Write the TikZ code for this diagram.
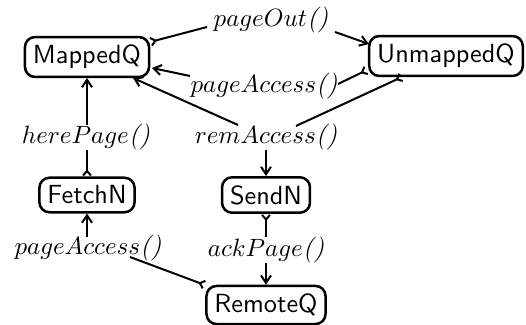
\documentclass[tikz,border=0pt]{standalone}
\usetikzlibrary{arrows.meta}

\tikzset{
  queue/.style={draw, line width=1pt, rounded corners=4pt,
    font=\sffamily\fontsize{10.5}{12}\selectfont,
    inner xsep=3.2pt, inner ysep=3.2pt},
  msg/.style={inner sep=0pt, font=\fontsize{10.4}{12}\selectfont},
  link/.style={line width=0.8pt},
  arr/.style={link, -{Straight Barb[length=3pt,width=4pt]}},
  tail/.style={link, {Straight Barb[reversed,length=1.8pt,width=3.2pt]}-},
}

\newcommand{\call}[1]{$#1$\textit{()}}

\begin{document}
\begin{tikzpicture}[x=0.4pt, y=-0.4pt]
  \useasboundingbox (0,0) rectangle (526,325);

  % page queues and nodes
  \node[queue] (MQ) at (87,57)   {MappedQ};
  \node[queue] (UQ) at (446,56)  {UnmappedQ};
  \node[queue] (FN) at (87,195)  {FetchN};
  \node[queue] (SN) at (266,195) {SendN};
  \node[queue] (RQ) at (266,305) {RemoteQ};

  % operation labels
  \node[msg] (pO)  at (271,20)  {\call{pageOut}};
  \node[msg] (pAt) at (264,86)  {\call{pageAccess}};
  \node[msg] (rA)  at (266,137) {\call{remAccess}};
  \node[msg] (hP)  at (86,137)  {\call{herePage}};
  \node[msg] (pAb) at (88,248)  {\call{pageAccess}};
  \node[msg] (aP)  at (266,250) {\call{ackPage}};

  % pageOut(): MappedQ -> UnmappedQ
  \draw[tail] ([shift={(63,-15)}]MQ.center) -- ([shift={(-64,7)}]pO.center);
  \draw[arr]  ([shift={(64,12)}]pO.center) -- ([shift={(-77,-12)}]UQ.center);

  % pageAccess(): UnmappedQ -> MappedQ
  \draw[tail] ([shift={(-79,14)}]UQ.center) -- ([shift={(74,-2)}]pAt.center);
  \draw[arr]  ([shift={(-74,-10)}]pAt.center) -- ([shift={(65,11)}]MQ.center);

  % remAccess(): UnmappedQ -> MappedQ and SendN
  \draw[tail] ([shift={(-44,21)}]UQ.center) -- ([shift={(30,-11)}]rA.center);
  \draw[arr]  ([shift={(-28,-12)}]rA.center) -- ([shift={(46,21)}]MQ.center);
  \draw[arr]  ([shift={(0,13)}]rA.center) -- (SN.north);

  % herePage(): FetchN -> MappedQ
  \draw[tail] (FN.north) -- ([shift={(1,13)}]hP.center);
  \draw[arr]  ([shift={(1,-12)}]hP.center) -- ([shift={(0,21)}]MQ.center);

  % pageAccess(): RemoteQ -> FetchN
  \draw[tail] ([shift={(-61,-20)}]RQ.center) -- ([shift={(42,9)}]pAb.center);
  \draw[arr]  ([shift={(-1,-11)}]pAb.center) -- (FN.south);

  % ackPage(): SendN -> RemoteQ
  \draw[tail] (SN.south) -- ([shift={(0,-13)}]aP.center);
  \draw[arr]  ([shift={(0,13)}]aP.center) -- (RQ.north);
\end{tikzpicture}
\end{document}
